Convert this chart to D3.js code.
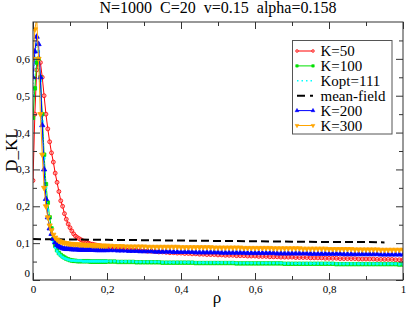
<!DOCTYPE html>
<html>
<head>
<meta charset="utf-8">
<script src="https://cdn.jsdelivr.net/npm/d3@7"></script>
<style>
  html, body { margin: 0; padding: 0; background: #fff; }
</style>
</head>
<body>
<div id="chart"></div>
<script>
// D_KL vs rho chart

const title = 'N=1000\u00a0\u00a0C=20\u00a0\u00a0v=0.15\u00a0\u00a0alpha=0.158';

const rho = [
  0, 0.005, 0.01, 0.015, 0.02, 0.025, 0.03, 0.035, 0.04, 0.045,
  0.05, 0.055, 0.06, 0.065, 0.07, 0.075, 0.08, 0.085, 0.09, 0.095,
  0.1, 0.105, 0.11, 0.115, 0.12, 0.125, 0.13, 0.135, 0.14, 0.145,
  0.15, 0.155, 0.16, 0.165, 0.17, 0.175, 0.18, 0.185, 0.19, 0.195, 0.2,
  0.21, 0.22, 0.23, 0.24, 0.25, 0.26, 0.27, 0.28, 0.29, 0.30,
  0.31, 0.32, 0.33, 0.34, 0.35, 0.36, 0.37, 0.38, 0.39, 0.40,
  0.41, 0.42, 0.43, 0.44, 0.45, 0.46, 0.47, 0.48, 0.49, 0.50,
  0.51, 0.52, 0.53, 0.54, 0.55, 0.56, 0.57, 0.58, 0.59, 0.60,
  0.61, 0.62, 0.63, 0.64, 0.65, 0.66, 0.67, 0.68, 0.69, 0.70,
  0.71, 0.72, 0.73, 0.74, 0.75, 0.76, 0.77, 0.78, 0.79, 0.80,
  0.81, 0.82, 0.83, 0.84, 0.85, 0.86, 0.87, 0.88, 0.89, 0.90,
  0.91, 0.92, 0.93, 0.94, 0.95, 0.96, 0.97, 0.98, 0.99, 1.00
];

const k50 = [
  0.27, 0.45, 0.57, 0.60, 0.59, 0.55, 0.50, 0.45, 0.41, 0.375,
  0.345, 0.32, 0.29, 0.265, 0.24, 0.215, 0.20, 0.18, 0.165, 0.152,
  0.142, 0.133, 0.125, 0.119, 0.115, 0.112, 0.109, 0.106, 0.104, 0.102,
  0.100, 0.098, 0.097, 0.096, 0.095, 0.094, 0.093, 0.092, 0.091, 0.090, 0.089,
  0.088, 0.087, 0.086, 0.085, 0.084, 0.083, 0.082, 0.081, 0.080, 0.079,
  0.078, 0.078, 0.077, 0.076, 0.076, 0.075, 0.074, 0.074, 0.073, 0.073,
  0.072, 0.072, 0.071, 0.071, 0.070, 0.070, 0.069, 0.069, 0.069, 0.068,
  0.068, 0.067, 0.067, 0.067, 0.066, 0.066, 0.066, 0.065, 0.065, 0.065,
  0.064, 0.064, 0.064, 0.063, 0.063, 0.063, 0.062, 0.062, 0.062, 0.062,
  0.061, 0.061, 0.061, 0.061, 0.060, 0.060, 0.060, 0.060, 0.059, 0.059,
  0.059, 0.059, 0.058, 0.058, 0.058, 0.058, 0.058, 0.057, 0.057, 0.057,
  0.057, 0.057, 0.056, 0.056, 0.056, 0.056, 0.056, 0.055, 0.055, 0.055
];

const k100 = [
  0.44, 0.52, 0.59, 0.60, 0.55, 0.45, 0.34, 0.26, 0.21, 0.17,
  0.14, 0.112, 0.093, 0.081, 0.073, 0.068, 0.064, 0.061, 0.058, 0.056,
  0.054, 0.053, 0.052, 0.052, 0.051, 0.051, 0.051, 0.051, 0.051, 0.051,
  0.051, 0.050, 0.050, 0.050, 0.050, 0.050, 0.050, 0.050, 0.050, 0.050, 0.050,
  0.050, 0.050, 0.049, 0.049, 0.049, 0.049, 0.049, 0.048, 0.048, 0.048,
  0.048, 0.048, 0.048, 0.048, 0.047, 0.047, 0.047, 0.047, 0.047, 0.047,
  0.047, 0.047, 0.047, 0.046, 0.046, 0.046, 0.046, 0.046, 0.046, 0.046,
  0.046, 0.046, 0.046, 0.046, 0.045, 0.045, 0.045, 0.045, 0.045, 0.045,
  0.045, 0.045, 0.045, 0.045, 0.045, 0.045, 0.045, 0.044, 0.044, 0.044,
  0.044, 0.044, 0.044, 0.044, 0.044, 0.044, 0.044, 0.044, 0.044, 0.044,
  0.044, 0.043, 0.043, 0.043, 0.043, 0.043, 0.043, 0.043, 0.043, 0.043,
  0.043, 0.043, 0.043, 0.043, 0.043, 0.043, 0.043, 0.043, 0.042, 0.042
];

const kopt = [
  0.50, 0.60, 0.64, 0.62, 0.54, 0.43, 0.33, 0.25, 0.19, 0.15,
  0.125, 0.103, 0.088, 0.078, 0.071, 0.066, 0.062, 0.059, 0.057, 0.055,
  0.054, 0.053, 0.053, 0.052, 0.052, 0.052, 0.052, 0.051, 0.051, 0.051,
  0.051, 0.051, 0.051, 0.051, 0.051, 0.051, 0.051, 0.051, 0.051, 0.051, 0.051,
  0.051, 0.051, 0.050, 0.050, 0.050, 0.050, 0.050, 0.049, 0.049, 0.049,
  0.049, 0.049, 0.049, 0.049, 0.048, 0.048, 0.048, 0.048, 0.048, 0.048,
  0.048, 0.048, 0.048, 0.047, 0.047, 0.047, 0.047, 0.047, 0.047, 0.047,
  0.047, 0.047, 0.047, 0.047, 0.046, 0.046, 0.046, 0.046, 0.046, 0.046,
  0.046, 0.046, 0.046, 0.046, 0.046, 0.046, 0.046, 0.045, 0.045, 0.045,
  0.045, 0.045, 0.045, 0.045, 0.045, 0.045, 0.045, 0.045, 0.045, 0.045,
  0.045, 0.044, 0.044, 0.044, 0.044, 0.044, 0.044, 0.044, 0.044, 0.044,
  0.044, 0.044, 0.044, 0.044, 0.044, 0.044, 0.044, 0.044, 0.043, 0.043
];

const k200 = [
  0.55, 0.62, 0.66, 0.64, 0.55, 0.42, 0.30, 0.22, 0.17, 0.14,
  0.125, 0.112, 0.102, 0.095, 0.091, 0.088, 0.086, 0.085, 0.084, 0.084,
  0.084, 0.083, 0.083, 0.083, 0.083, 0.082, 0.082, 0.082, 0.082, 0.082,
  0.082, 0.082, 0.082, 0.082, 0.081, 0.081, 0.081, 0.081, 0.081, 0.081, 0.081,
  0.081, 0.081, 0.080, 0.080, 0.080, 0.079, 0.079, 0.079, 0.078, 0.078,
  0.078, 0.078, 0.077, 0.077, 0.077, 0.077, 0.077, 0.076, 0.076, 0.076,
  0.076, 0.076, 0.076, 0.075, 0.075, 0.075, 0.075, 0.075, 0.075, 0.075,
  0.074, 0.074, 0.074, 0.074, 0.074, 0.074, 0.074, 0.073, 0.073, 0.073,
  0.073, 0.073, 0.073, 0.073, 0.073, 0.072, 0.072, 0.072, 0.072, 0.072,
  0.072, 0.072, 0.072, 0.072, 0.071, 0.071, 0.071, 0.071, 0.071, 0.071,
  0.071, 0.071, 0.071, 0.070, 0.070, 0.070, 0.070, 0.070, 0.070, 0.070,
  0.070, 0.070, 0.070, 0.069, 0.069, 0.069, 0.069, 0.069, 0.069, 0.069
];

const k300 = [
  0.60, 0.68, 0.71, 0.60, 0.45, 0.34, 0.25, 0.20, 0.17, 0.148,
  0.135, 0.123, 0.115, 0.110, 0.106, 0.104, 0.102, 0.101, 0.100, 0.099,
  0.098, 0.098, 0.097, 0.097, 0.097, 0.096, 0.096, 0.096, 0.095, 0.095,
  0.095, 0.095, 0.094, 0.094, 0.094, 0.094, 0.093, 0.093, 0.093, 0.093, 0.093,
  0.093, 0.092, 0.092, 0.092, 0.091, 0.091, 0.091, 0.091, 0.091, 0.091,
  0.090, 0.090, 0.090, 0.090, 0.090, 0.090, 0.090, 0.090, 0.090, 0.089,
  0.089, 0.089, 0.089, 0.089, 0.089, 0.089, 0.089, 0.089, 0.088, 0.088,
  0.088, 0.088, 0.088, 0.088, 0.088, 0.088, 0.087, 0.087, 0.087, 0.087,
  0.087, 0.087, 0.087, 0.087, 0.086, 0.086, 0.086, 0.086, 0.086, 0.086,
  0.086, 0.086, 0.085, 0.085, 0.085, 0.085, 0.085, 0.085, 0.085, 0.084,
  0.084, 0.084, 0.084, 0.084, 0.084, 0.084, 0.083, 0.083, 0.083, 0.083,
  0.083, 0.083, 0.083, 0.082, 0.082, 0.082, 0.082, 0.082, 0.082, 0.082
];

const meanFieldRho = [0, 0.1, 0.2, 0.3, 0.4, 0.5, 0.6, 0.7, 0.8, 0.9, 0.95];
const meanField = [0.111, 0.110, 0.109, 0.108, 0.107, 0.106, 0.105, 0.104, 0.103, 0.103, 0.102];

const xTicks = [0, 0.2, 0.4, 0.6, 0.8, 1];
const xMinorTicks = [0.1, 0.3, 0.5, 0.7, 0.9];
const yTicks = [0, 0.1, 0.2, 0.3, 0.4, 0.5, 0.6];
const yMinorTicks = [0.05, 0.15, 0.25, 0.35, 0.45, 0.55, 0.65];

const series = [
  { name: 'K=50', values: k50, color: '#ff0000', marker: 'circle' },
  { name: 'K=100', values: k100, color: '#00e000', marker: 'square' },
  { name: 'Kopt=111', values: kopt, color: '#00ffff', marker: 'dot', dotted: true },
  { name: 'mean-field', values: meanField, xs: meanFieldRho, color: '#000000', marker: 'none', dashed: true },
  { name: 'K=200', values: k200, color: '#0000ff', marker: 'triangle' },
  { name: 'K=300', values: k300, color: '#ffa500', marker: 'triangleDown' }
];

const W = 407, H = 310;
const plot = { left: 33, right: 403, top: 22, bottom: 280 };
const serif = '"Liberation Serif", "Times New Roman", Times, serif';

const x = d3.scaleLinear().domain([0, 1]).range([plot.left, plot.right]);
const y = d3.scaleLinear().domain([0, 0.7]).range([plot.bottom, plot.top]);

const comma = d => (d === 0 ? '0' : d === 1 ? '1' : d3.format('.1f')(d).replace('.', ','));

const svg = d3.select('#chart').append('svg')
  .attr('width', W)
  .attr('height', H);

svg.append('defs').append('clipPath').attr('id', 'clip')
  .append('rect')
  .attr('x', plot.left).attr('y', plot.top)
  .attr('width', plot.right - plot.left)
  .attr('height', plot.bottom - plot.top);

// title
svg.append('text')
  .attr('x', 218).attr('y', 13)
  .attr('text-anchor', 'middle')
  .attr('font-family', serif)
  .attr('font-size', 16)
  .text(title);

function markerPath(type, size) {
  if (type === 'circle') return d3.symbol(d3.symbolCircle, size)();
  if (type === 'square') return d3.symbol(d3.symbolSquare, size)();
  if (type === 'triangle') return d3.symbol(d3.symbolTriangle, size)();
  if (type === 'triangleDown') return d3.symbol(d3.symbolTriangle, size)();
  if (type === 'dot') return d3.symbol(d3.symbolSquare, size * 0.35)();
  return null;
}

// data
const g = svg.append('g').attr('clip-path', 'url(#clip)');

series.forEach(s => {
  const xs = s.xs || rho;
  const pts = s.values.map((v, i) => [xs[i], v]);
  const line = d3.line().x(d => x(d[0])).y(d => y(d[1]));
  const path = g.append('path')
    .datum(pts)
    .attr('fill', 'none')
    .attr('stroke', s.color)
    .attr('d', line);
  if (s.dashed) {
    path.attr('stroke-width', 2).attr('stroke-dasharray', '8,4');
  } else if (s.dotted) {
    path.attr('stroke-width', 1).attr('stroke-dasharray', '1,2');
  } else {
    path.attr('stroke-width', 1);
  }
  const mp = markerPath(s.marker, 12);
  if (mp) {
    g.selectAll(null)
      .data(pts)
      .enter()
      .append('path')
      .attr('d', mp)
      .attr('transform', d => `translate(${x(d[0])},${y(d[1])})${s.marker === 'triangleDown' ? ' rotate(180)' : ''}`)
      .attr('fill', s.marker === 'circle' ? '#ff9090' : s.color)
      .attr('fill-opacity', s.marker === 'circle' ? 0.6 : 1)
      .attr('stroke', s.color)
      .attr('stroke-width', 0.8);
  }
});

// frame and ticks
const axisColor = '#333';

function styleAxis(sel) {
  sel.select('.domain').remove();
  sel.attr('font-family', serif).attr('font-size', 11);
  sel.selectAll('line').attr('stroke', axisColor);
  sel.selectAll('text').attr('fill', '#000');
}

svg.append('g')
  .attr('transform', `translate(0,${plot.bottom})`)
  .call(d3.axisBottom(x).tickValues(xTicks).tickSize(-7).tickPadding(5).tickFormat(comma))
  .call(styleAxis);
svg.append('g')
  .attr('transform', `translate(0,${plot.bottom})`)
  .call(d3.axisBottom(x).tickValues(xMinorTicks).tickSize(-4).tickFormat(''))
  .call(styleAxis);
svg.append('g')
  .attr('transform', `translate(0,${plot.top})`)
  .call(d3.axisTop(x).tickValues(xTicks).tickSize(-7).tickFormat(''))
  .call(styleAxis);
svg.append('g')
  .attr('transform', `translate(0,${plot.top})`)
  .call(d3.axisTop(x).tickValues(xMinorTicks).tickSize(-4).tickFormat(''))
  .call(styleAxis);

const yAxis = svg.append('g')
  .attr('transform', `translate(${plot.left},0)`)
  .call(d3.axisLeft(y).tickValues(yTicks).tickSize(-7).tickPadding(3).tickFormat(comma))
  .call(styleAxis);
yAxis.selectAll('.tick').filter(d => d === 0).select('text').attr('dy', '-0.35em');
svg.append('g')
  .attr('transform', `translate(${plot.left},0)`)
  .call(d3.axisLeft(y).tickValues(yMinorTicks).tickSize(-4).tickFormat(''))
  .call(styleAxis);
svg.append('g')
  .attr('transform', `translate(${plot.right},0)`)
  .call(d3.axisRight(y).tickValues(yTicks).tickSize(-7).tickFormat(''))
  .call(styleAxis);
svg.append('g')
  .attr('transform', `translate(${plot.right},0)`)
  .call(d3.axisRight(y).tickValues(yMinorTicks).tickSize(-4).tickFormat(''))
  .call(styleAxis);

svg.append('rect')
  .attr('x', plot.left).attr('y', plot.top)
  .attr('width', plot.right - plot.left)
  .attr('height', plot.bottom - plot.top)
  .attr('fill', 'none')
  .attr('stroke', axisColor)
  .attr('stroke-width', 1);

// axis labels
svg.append('text')
  .attr('transform', 'translate(17,150) rotate(-90)')
  .attr('text-anchor', 'middle')
  .attr('font-family', serif)
  .attr('font-size', 17)
  .text('D_KL');
svg.append('text')
  .attr('x', 217).attr('y', 303)
  .attr('text-anchor', 'middle')
  .attr('font-family', serif)
  .attr('font-size', 17)
  .text('ρ');

// legend
const legend = svg.append('g');
legend.append('rect')
  .attr('x', 292.5).attr('y', 40.5)
  .attr('width', 99.5).attr('height', 93.5)
  .attr('fill', '#fff')
  .attr('stroke', '#555')
  .attr('stroke-width', 1);

series.forEach((s, i) => {
  const ly = 51 + i * 14.9;
  const row = legend.append('g');
  const ln = row.append('line')
    .attr('x1', 297).attr('x2', 313)
    .attr('y1', ly).attr('y2', ly)
    .attr('stroke', s.color);
  if (s.dashed) ln.attr('stroke-width', 2).attr('stroke-dasharray', '8,5');
  else if (s.dotted) ln.attr('stroke-width', 1.5).attr('stroke-dasharray', '1.5,3');
  const mp = markerPath(s.marker, 6);
  if (mp && s.marker !== 'dot') {
    [297, 313].forEach(mx => {
      row.append('path')
        .attr('d', mp)
        .attr('transform', `translate(${mx},${ly})${s.marker === 'triangleDown' ? ' rotate(180)' : ''}`)
        .attr('fill', s.marker === 'circle' ? '#ff9090' : s.color)
        .attr('stroke', s.color)
        .attr('stroke-width', 0.6);
    });
  }
  row.append('text')
    .attr('x', 320.5).attr('y', ly + 5)
    .attr('font-family', serif)
    .attr('font-size', 15)
    .text(s.name);
});
</script>
</body>
</html>
